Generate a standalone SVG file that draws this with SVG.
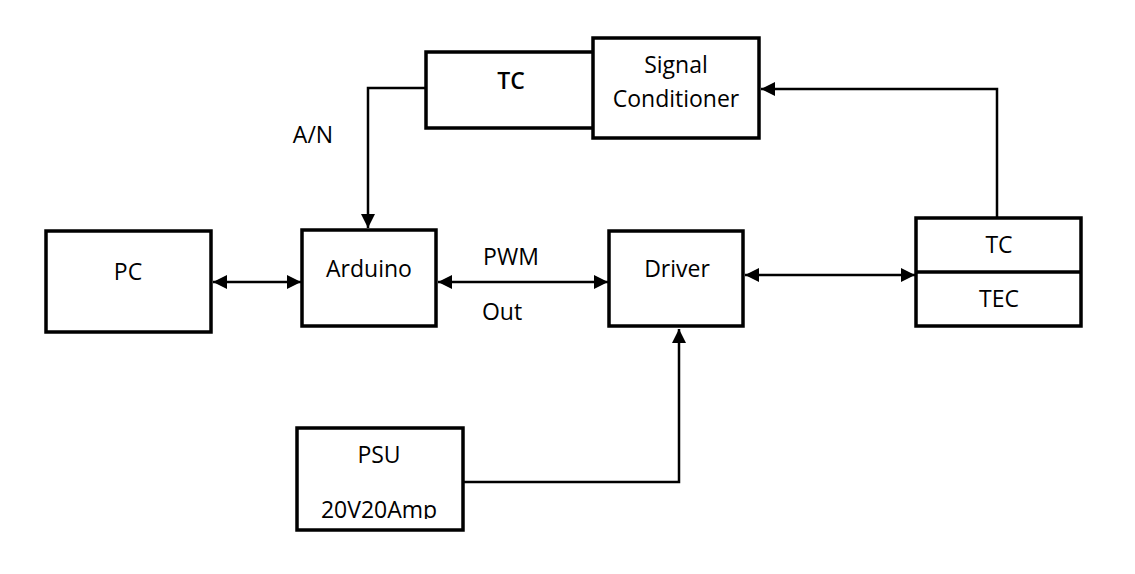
<svg xmlns="http://www.w3.org/2000/svg" width="1135" height="574" viewBox="0 0 1135 574">
<style>
.box{fill:#fff;stroke:#000;stroke-width:3.5}
.ln{fill:none;stroke:#000;stroke-width:2.5}
text{font-family:"Open Sans","Noto Sans","Liberation Sans",sans-serif;font-size:23px;fill:#000;text-anchor:middle}
</style>
<defs>
<marker id="ah" viewBox="0 0 14 14" refX="14" refY="7" markerWidth="14" markerHeight="14" markerUnits="userSpaceOnUse" orient="auto-start-reverse">
<path d="M0,0 L14,7 L0,14 Z" fill="#000"/>
</marker>
<clipPath id="psuclip"><rect x="297" y="428" width="166" height="91"/></clipPath>
</defs>
<rect width="1135" height="574" fill="#fff"/>
<g id="connectors">
<polyline class="ln" points="426,88 368,88 368,228" marker-end="url(#ah)"/>
<polyline class="ln" points="997,218 997,89 761,89" marker-end="url(#ah)"/>
<line class="ln" x1="213" y1="282" x2="301" y2="282" marker-start="url(#ah)" marker-end="url(#ah)"/>
<line class="ln" x1="438" y1="282" x2="608" y2="282" marker-start="url(#ah)" marker-end="url(#ah)"/>
<line class="ln" x1="745" y1="275" x2="915" y2="275" marker-start="url(#ah)" marker-end="url(#ah)"/>
<polyline class="ln" points="463,482 679,482 679,329" marker-end="url(#ah)"/>
<text x="313" y="143">A/N</text>
<text x="511" y="265">PWM</text>
<text x="502" y="320">Out</text>
</g>
<g id="tc-top">
<rect class="box" x="426" y="52" width="170" height="76"/>
<text x="511" y="89" font-weight="600">TC</text>
</g>
<g id="signal-conditioner">
<rect class="box" x="593" y="38" width="166" height="100"/>
<text x="676" y="73">Signal</text>
<text x="676" y="107">Conditioner</text>
</g>
<g id="pc">
<rect class="box" x="46" y="231" width="165" height="101"/>
<text x="128" y="280">PC</text>
</g>
<g id="arduino">
<rect class="box" x="302" y="230" width="134" height="96"/>
<text x="369" y="277">Arduino</text>
</g>
<g id="driver">
<rect class="box" x="609" y="231" width="134" height="95"/>
<text x="677" y="277">Driver</text>
</g>
<g id="tc-tec">
<rect class="box" x="916" y="218" width="165" height="108"/>
<line class="box" x1="916" y1="272" x2="1081" y2="272"/>
<text x="999" y="253">TC</text>
<text x="999" y="307">TEC</text>
</g>
<g id="psu">
<rect class="box" x="297" y="428" width="166" height="102"/>
<text x="379" y="463">PSU</text>
<g clip-path="url(#psuclip)"><text x="379" y="518">20V20Amp</text></g>
</g>
</svg>
